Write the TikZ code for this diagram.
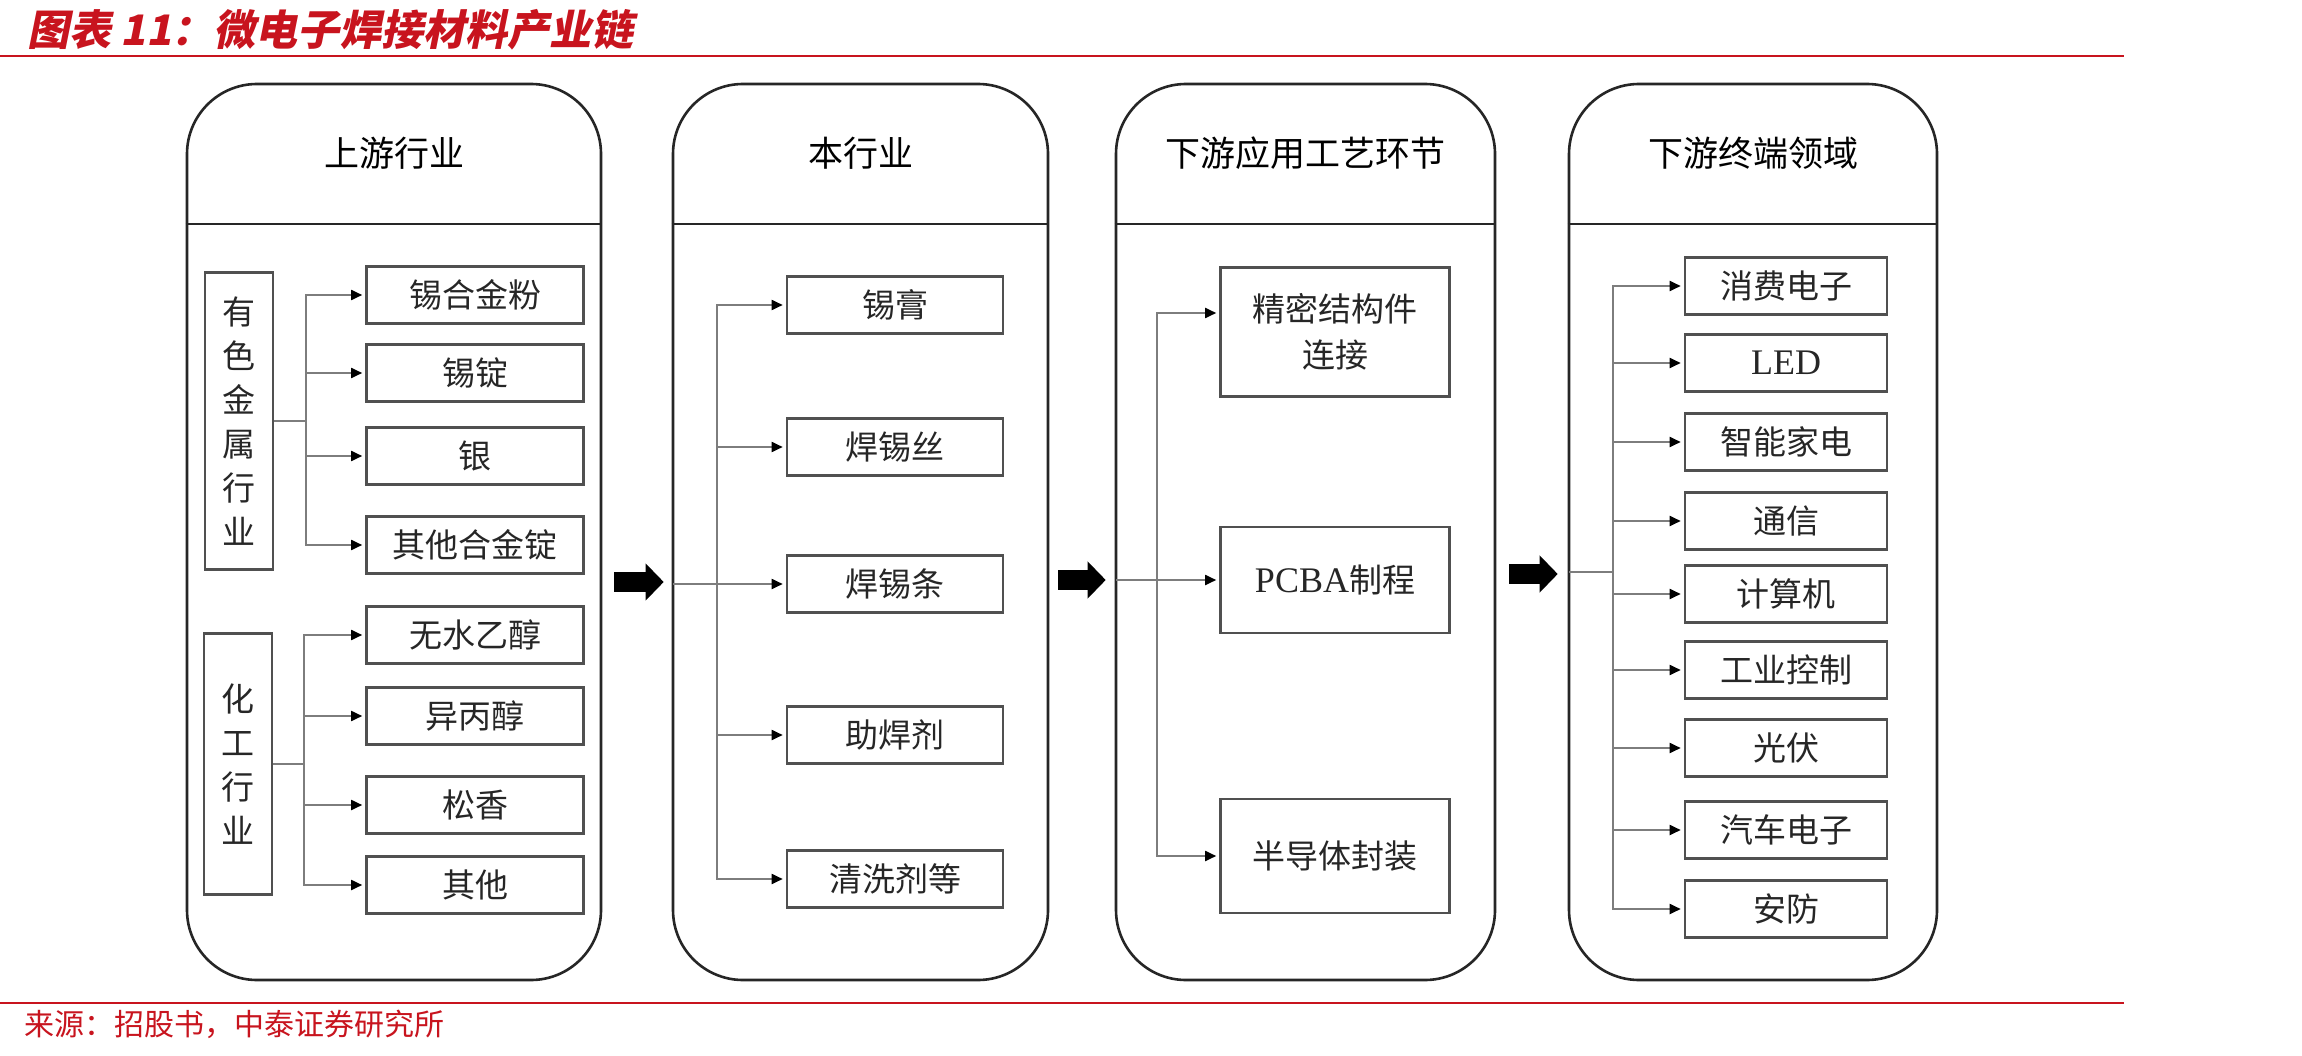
\documentclass[tikz,border=0pt]{standalone}
\usepackage{fontspec}
\setmainfont{Noto Sans CJK SC}
\newfontfamily\lat{Liberation Serif}
\newfontfamily\ttl[FakeSlant=0.2]{Noto Sans CJK SC}
\usetikzlibrary{arrows.meta,calc}
\definecolor{hdred}{RGB}{200,20,30}
\definecolor{boxgray}{RGB}{80,80,80}
\definecolor{lngray}{RGB}{125,125,125}
\begin{document}
\begin{tikzpicture}[x=1pt,y=-1pt,
  colbox/.style={draw=black!85, line width=2.6pt, rounded corners=70pt, inner sep=0},
  divline/.style={draw=black!85, line width=2.6pt},
  hdr/.style={font=\fontsize{35}{40}\selectfont, inner sep=0},
  item/.style={draw=boxgray, line width=2.6pt, inner sep=0, font=\fontsize{33}{40}\selectfont, text=black!85},
  vbox/.style={draw=boxgray, line width=2.6pt, inner sep=0, align=center, font=\fontsize{33}{44}\selectfont, text=black!85},
  conn/.style={draw=lngray, line width=1.8pt, shorten >=3pt, -{Triangle[length=11pt,width=10pt,color=black]}},
  plain/.style={draw=lngray, line width=1.8pt},
  fat/.style={draw=black, line width=20pt, -{Triangle[length=18pt,width=36pt]}},
  redrule/.style={draw=hdred, line width=2.5pt}
]
\useasboundingbox (0,0) rectangle (2302,1056);
\fill[white] (0,0) rectangle (2302,1056);

% title and rules
\node[anchor=west, text=hdred, font=\ttl\bfseries\fontsize{42}{48}\selectfont, inner sep=0] (title) at (27,30) {图表 11：微电子焊接材料产业链};
\coordinate (r1a) at (0,56); \coordinate (r1b) at (2124,56);
\draw[redrule] (r1a) -- (r1b);
\coordinate (r2a) at (0,1003); \coordinate (r2b) at (2124,1003);
\draw[redrule] (r2a) -- (r2b);
\node[anchor=west, text=hdred, font=\fontsize{30}{36}\selectfont, inner sep=0] (src) at (24,1024) {来源：招股书，中泰证券研究所};

% columns
\node[colbox, minimum width=414pt, minimum height=896pt] (c1) at (394,532) {};
\node[colbox, minimum width=375pt, minimum height=896pt] (c2) at (860.5,532) {};
\node[colbox, minimum width=379pt, minimum height=896pt] (c3) at (1305.5,532) {};
\node[colbox, minimum width=368pt, minimum height=896pt] (c4) at (1753,532) {};
\foreach \c in {c1,c2,c3,c4}{
  \draw[divline] (\c.west |- 0,224) -- (\c.east |- 0,224);
}
\node[hdr] (h1) at (394,153) {上游行业};
\node[hdr] (h2) at (860.5,153) {本行业};
\node[hdr] (h3) at (1305.5,153) {下游应用工艺环节};
\node[hdr] (h4) at (1753,153) {下游终端领域};

% fat arrows
\draw[fat] ($(c1.east |- 0,582)+(12,0)$) -- ($(c2.west |- 0,582)+(-8,0)$);
\draw[fat] ($(c2.east |- 0,580)+(9,0)$) -- ($(c3.west |- 0,580)+(-9,0)$);
\draw[fat] ($(c3.east |- 0,574)+(13,0)$) -- ($(c4.west |- 0,574)+(-10,0)$);

% column 1
\node[vbox, minimum width=68pt, minimum height=297pt] (m1) at (239,421) {有\\色\\金\\属\\行\\业};
\node[vbox, minimum width=68pt, minimum height=261pt] (m2) at (238,764) {化\\工\\行\\业};
\foreach \n/\y/\t in {a1/295/锡合金粉, a2/373/锡锭, a3/456/银, a4/545/其他合金锭,
                      a5/635/无水乙醇, a6/716/异丙醇, a7/805/松香, a8/885/其他}{
  \node[item, minimum width=217pt, minimum height=57pt] (\n) at (475,\y) {\t};
}
\coordinate (j1) at (306,421);
\coordinate (j1b) at (304,764);
\draw[plain] (m1.east) -- (j1);
\draw[plain] (m2.east) -- (j1b);
\foreach \n in {a1,a2,a3,a4}{ \draw[conn] (j1) |- (\n.west); }
\foreach \n in {a5,a6,a7,a8}{ \draw[conn] (j1b) |- (\n.west); }

% column 2
\foreach \n/\y/\t in {b1/305/锡膏, b2/447/焊锡丝, b3/584/焊锡条, b4/735/助焊剂, b5/879/清洗剂等}{
  \node[item, minimum width=216pt, minimum height=57pt] (\n) at (895,\y) {\t};
}
\coordinate (in2) at (673,584);
\coordinate (j2) at (717,584);
\draw[conn] (in2) -- (b3.west);
\foreach \n in {b1,b2,b4,b5}{ \draw[conn] (j2) |- (\n.west); }

% column 3
\node[item, minimum width=229pt, minimum height=129pt, align=center, font=\fontsize{33}{46}\selectfont] (p1) at (1335,332) {精密结构件\\连接};
\node[item, minimum width=229pt, minimum height=106pt] (p2) at (1335,580) {{\lat\fontsize{36}{40}\selectfont PCBA}制程};
\node[item, minimum width=229pt, minimum height=114pt] (p3) at (1335,856) {半导体封装};
\coordinate (in3) at (1116,580);
\coordinate (j3) at (1157,580);
\draw[conn] (in3) -- (p2.west);
\draw[conn] (j3) |- (p1.west |- 0,313);
\draw[conn] (j3) |- (p3.west);

% column 4
\foreach \n/\y/\t in {d1/286/消费电子, d2/363/{\lat\fontsize{36}{40}\selectfont LED}, d3/442/智能家电, d4/521/通信, d5/594/计算机,
                      d6/670/工业控制, d7/748/光伏, d8/830/汽车电子, d9/909/安防}{
  \node[item, minimum width=202pt, minimum height=57pt] (\n) at (1786,\y) {\t};
}
\coordinate (in4) at (1569,572);
\coordinate (j4) at (1613,572);
\draw[plain] (in4) -- (j4);
\foreach \n in {d1,d2,d3,d4,d5,d6,d7,d8,d9}{ \draw[conn] (j4) |- (\n.west); }
\end{tikzpicture}
\end{document}
